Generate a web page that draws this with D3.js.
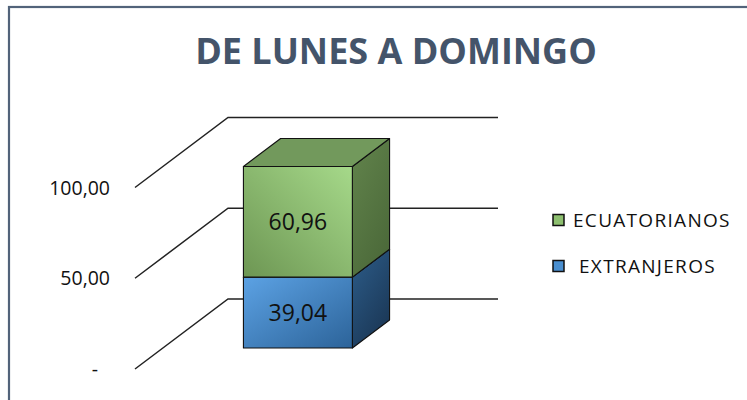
<!DOCTYPE html>
<html>
<head>
<meta charset="utf-8">
<script src="https://cdn.jsdelivr.net/npm/d3@7"></script>
<style>
  body { margin: 0; background: #fff; }
  text { font-family: "Open Sans", sans-serif; }
</style>
</head>
<body>
<svg id="chart" width="747" height="400"></svg>
<script>
(function() {

// data
const categories = ["DE LUNES A DOMINGO"];
const seriesNames = ["EXTRANJEROS", "ECUATORIANOS"];   // stack order, bottom first
const extranjeros = [39.04];
const ecuatorianos = [60.96];
const yTicks = [0, 50, 100];
const title = "DE LUNES A DOMINGO";

const colors = {
    EXTRANJEROS: { front: ["#5ca2e4", "#2c6399"], side: ["#2d5d8a", "#1b3857"], top: "#3f78b0", key: "#4a8fd0" },
    ECUATORIANOS: { front: ["#a6d98a", "#6d9653"], side: ["#62844c", "#4c6a3a"], top: "#72995c", key: "#8dbf6f" }
};

const svg = d3.select("#chart");

// oblique 3d: front plane and depth shift
const depthX = 93, depthY = -70;
const barD0 = 0.3, barD1 = 0.7;

const y = d3.scaleLinear().domain([0, 100]).range([369, 187.5]);
const x = d3.scaleBand().domain(categories).range([135, 405]).padding(0.425);

const p = (px, v, d) => [px + d * depthX, y(v) + d * depthY];

const loc = d3.formatLocale({ decimal: ",", thousands: ".", grouping: [3], currency: ["$", ""] });
const fmt = loc.format(",.2f");

// frame
svg.append("rect")
    .attr("x", 9).attr("y", 7)
    .attr("width", 800).attr("height", 500)
    .attr("fill", "none")
    .attr("stroke", "#52637a")
    .attr("stroke-width", 2.2);

svg.append("text")
    .attr("x", 396)
    .attr("y", 64)
    .attr("text-anchor", "middle")
    .attr("font-size", "36px")
    .attr("font-weight", "bold")
    .attr("fill", "#44546a")
    .text(title);

// gridlines: side wall diagonal + back wall
const line = d3.line();
svg.append("g").selectAll("path")
    .data(yTicks)
    .enter().append("path")
    .attr("d", v => line([p(x.range()[0], v, 0), p(x.range()[0], v, 1), p(x.range()[1], v, 1)]))
    .attr("fill", "none")
    .attr("stroke", "#222")
    .attr("stroke-width", 1.5);

// tick labels
svg.append("g").selectAll("text")
    .data(yTicks)
    .enter().append("text")
    .attr("x", v => v === 0 ? 98 : 110)
    .attr("y", v => y(v) + 7)
    .attr("text-anchor", "end")
    .attr("font-size", "19.5px")
    .attr("fill", "#111")
    .text(v => v === 0 ? "-" : fmt(v));

// gradients
const defs = svg.append("defs");
seriesNames.forEach((s, i) => {
    const c = colors[s];
    const gf = defs.append("linearGradient").attr("id", "front" + i)
        .attr("x1", i === 0 ? 0 : 1).attr("y1", 0)
        .attr("x2", i === 0 ? 1 : 0).attr("y2", 1);
    gf.append("stop").attr("offset", "0%").attr("stop-color", c.front[0]);
    gf.append("stop").attr("offset", "100%").attr("stop-color", c.front[1]);
    const gs = defs.append("linearGradient").attr("id", "side" + i)
        .attr("x1", 0).attr("y1", 0).attr("x2", 0.6).attr("y2", 1);
    gs.append("stop").attr("offset", "0%").attr("stop-color", c.side[0]);
    gs.append("stop").attr("offset", "100%").attr("stop-color", c.side[1]);
});

// stacked 3d bar
const table = categories.map((c, i) => ({ cat: c, EXTRANJEROS: extranjeros[i], ECUATORIANOS: ecuatorianos[i] }));
const stack = d3.stack().keys(seriesNames)(table);

const poly = pts => "M" + pts.map(q => q.join(",")).join("L") + "Z";

const bars = svg.append("g");
stack.forEach((layer, i) => {
    layer.forEach(seg => {
        const x0 = x(seg.data.cat), x1 = x0 + x.bandwidth();
        const v0 = seg[0], v1 = seg[1];
        const g = bars.append("g")
            .attr("stroke", "#111")
            .attr("stroke-width", 1.1)
            .attr("stroke-linejoin", "round");
        // right side
        g.append("path")
            .attr("d", poly([p(x1, v0, barD0), p(x1, v0, barD1), p(x1, v1, barD1), p(x1, v1, barD0)]))
            .attr("fill", `url(#side${i})`);
        // top
        g.append("path")
            .attr("d", poly([p(x0, v1, barD0), p(x1, v1, barD0), p(x1, v1, barD1), p(x0, v1, barD1)]))
            .attr("fill", colors[layer.key].top);
        // front
        const a = p(x0, v1, barD0), b = p(x1, v0, barD0);
        g.append("rect")
            .attr("x", a[0]).attr("y", a[1])
            .attr("width", b[0] - a[0]).attr("height", b[1] - a[1])
            .attr("fill", `url(#front${i})`);
        // value label
        g.append("text")
            .attr("x", (a[0] + b[0]) / 2)
            .attr("y", (a[1] + b[1]) / 2 + 8)
            .attr("text-anchor", "middle")
            .attr("stroke", "none")
            .attr("font-size", "23px")
            .attr("fill", "#111")
            .text(fmt(seg.data[layer.key]));
    });
});

// legend (reverse of stack order)
const legendNames = seriesNames.slice().reverse();
const legend = svg.append("g").selectAll("g")
    .data(legendNames)
    .enter().append("g")
    .attr("transform", (d, i) => `translate(553, ${220 + i * 46})`);

legend.append("rect")
    .attr("x", 0).attr("y", -5.5)
    .attr("width", 11).attr("height", 11)
    .attr("fill", d => colors[d].key)
    .attr("stroke", "#111")
    .attr("stroke-width", 1.5);

legend.append("text")
    .attr("x", (d, i) => i === 0 ? 20 : 26)
    .attr("y", 7)
    .attr("font-size", "19px")
    .attr("letter-spacing", "1.3px")
    .attr("fill", "#111")
    .text(d => d);

})();
</script>
</body>
</html>
